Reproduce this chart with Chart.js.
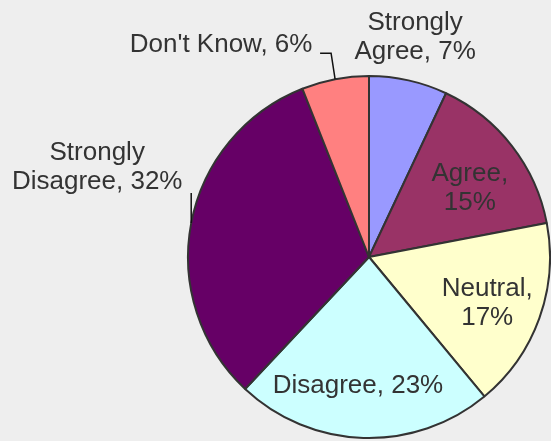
<!DOCTYPE html>
<html>
<head>
<meta charset="utf-8">
<script src="https://cdn.jsdelivr.net/npm/chart.js@4/dist/chart.umd.min.js"></script>
<style>
    html, body { margin: 0; padding: 0; background: #eeeeee; }
    #surveyChart { display: block; }
</style>
</head>
<body>
<canvas id="surveyChart" width="551" height="441"></canvas>
<script>
const categories = ['Strongly Agree', 'Agree', 'Neutral', 'Disagree', 'Strongly Disagree', "Don't Know"];
const percentages = [7, 15, 17, 23, 32, 6];
const sliceColors = ['#9999ff', '#993366', '#ffffcc', '#ccffff', '#660066', '#ff8080'];

// where each label sits: r = fraction of the radius along the slice middle,
// dx/dy = nudge of the text block, wrap = where the text breaks,
// leader = bend points (relative to the anchor) for labels outside the pie
const labelPlacement = [
    { r: 1.245, dx: -3, dy: 0, wrap: 'word' },
    { r: 0.67, dx: 5, dy: 6, wrap: 'comma' },
    { r: 0.70, dx: -1, dy: 3, wrap: 'comma' },
    { r: 0.71, dx: -7, dy: 0, wrap: 'none' },
    { r: 1.0, dx: -94, dy: -56, wrap: 'word', leader: [[0, -30]] },
    { r: 1.0, dx: -114, dy: -34, wrap: 'none', leader: [[-4, -26], [-15, -26]] }
];

function labelLines(i) {
    const text = `${categories[i]}, ${percentages[i]}%`;
    const wrap = labelPlacement[i].wrap;
    if (wrap === 'word') {
        const cut = text.indexOf(' ');
        return [text.slice(0, cut), text.slice(cut + 1)];
    }
    if (wrap === 'comma') {
        const cut = text.indexOf(',');
        return [text.slice(0, cut + 1), text.slice(cut + 2)];
    }
    return [text];
}

const sliceLabels = {
    id: 'sliceLabels',
    afterDatasetsDraw(chart) {
        const c = chart.ctx;
        const meta = chart.getDatasetMeta(0);
        c.save();
        c.font = '26px "Liberation Sans", Arial, sans-serif';
        c.fillStyle = '#333333';
        c.strokeStyle = '#111111';
        c.lineWidth = 1.5;
        c.textAlign = 'center';
        c.textBaseline = 'middle';
        meta.data.forEach((arc, i) => {
            const { x, y, startAngle, endAngle, outerRadius } =
                arc.getProps(['x', 'y', 'startAngle', 'endAngle', 'outerRadius'], true);
            const mid = (startAngle + endAngle) / 2;
            const p = labelPlacement[i];
            const ax = x + Math.cos(mid) * outerRadius * p.r;
            const ay = y + Math.sin(mid) * outerRadius * p.r;

            if (p.leader) {
                c.beginPath();
                c.moveTo(ax, ay);
                p.leader.forEach(([lx, ly]) => c.lineTo(ax + lx, ay + ly));
                c.stroke();
            }

            const lines = labelLines(i);
            const lineHeight = 29;
            lines.forEach((line, k) => {
                const offset = (k - (lines.length - 1) / 2) * lineHeight;
                c.fillText(line, ax + p.dx, ay + p.dy + offset);
            });
        });
        c.restore();
    }
};

document.addEventListener('DOMContentLoaded', () => {
    const ctx = document.getElementById('surveyChart').getContext('2d');
    new Chart(ctx, {
        type: 'pie',
        data: {
            labels: categories,
            datasets: [
                {
                    data: percentages,
                    backgroundColor: sliceColors,
                    borderColor: '#333333',
                    borderWidth: 2
                }
            ]
        },
        options: {
            responsive: false,
            animation: false,
            layout: {
                padding: { left: 187, right: 0, top: 75, bottom: 2 }
            },
            plugins: {
                legend: { display: false },
                tooltip: { enabled: false }
            }
        },
        plugins: [sliceLabels]
    });
});
</script>
</body>
</html>
